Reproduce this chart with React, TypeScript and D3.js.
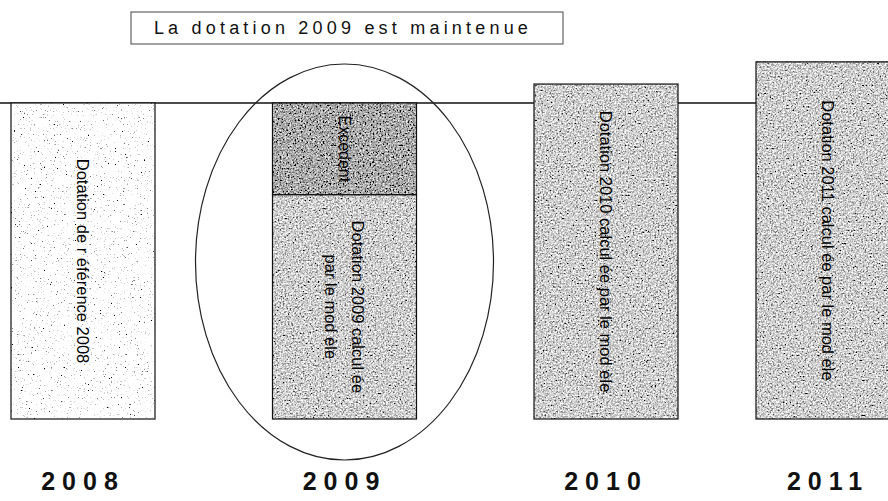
import * as d3 from "d3";
import { useRef, useEffect } from "react";

// data
const years = [2008, 2009, 2010, 2011];
const baseLabels = [
  ["Dotation de r éférence 2008"],
  ["Dotation 2009 calcul ée", "par le mod èle"],
  ["Dotation 2010 calcul ée par le mod èle"],
  ["Dotation 2011 calcul ée par le mod èle"],
];
const baseValues = [100, 71, 106, 113];
const excessValues = [0, 29, 0, 0];
const excessLabel = "Excédent";
const title = "La dotation 2009 est maintenue";

const W = 888;
const H = 501;

const App = () => {
  const svgRef = useRef(null);

  useEffect(() => {
    const svgEl = d3.select(svgRef.current);
    svgEl.selectAll("*").remove();

    const barW = 144;
    // bars are not evenly spaced in the original slide
    const xScale = d3.scaleLinear().domain([2008, 2010, 2011]).range([11, 534, 756]);
    const yScale = d3.scaleLinear().domain([0, 100]).range([419, 103]);

    // noise textures
    const defs = svgEl.append("defs");
    const mkNoise = (id, slope, intercept, seed, freq) => {
      const f = defs
        .append("filter")
        .attr("id", id)
        .attr("filterUnits", "objectBoundingBox")
        .attr("x", 0)
        .attr("y", 0)
        .attr("width", 1)
        .attr("height", 1);
      f.append("feTurbulence")
        .attr("type", "fractalNoise")
        .attr("baseFrequency", freq)
        .attr("numOctaves", 2)
        .attr("seed", seed);
      f.append("feColorMatrix")
        .attr("type", "matrix")
        .attr("values", "0.33 0.33 0.34 0 0  0.33 0.33 0.34 0 0  0.33 0.33 0.34 0 0  0 0 0 0 1");
      const ct = f.append("feComponentTransfer");
      ["feFuncR", "feFuncG", "feFuncB"].forEach((fn) =>
        ct.append(fn).attr("type", "linear").attr("slope", slope).attr("intercept", intercept)
      );
    };
    mkNoise("sparse", 8, -2.3, 4, 0.7);
    mkNoise("grey", 3.2, -0.98, 2, 0.6);
    mkNoise("dark", 3.2, -1.2, 7, 0.6);

    const g = svgEl.append("g");

    // reference line at the 2008 level
    g.append("line")
      .attr("x1", 0)
      .attr("x2", W)
      .attr("y1", yScale(baseValues[0]))
      .attr("y2", yScale(baseValues[0]))
      .attr("stroke", "#111")
      .attr("stroke-width", 1.5);

    const bars = years.map((y, i) => ({
      year: y,
      base: baseValues[i],
      excess: excessValues[i],
      labels: baseLabels[i],
    }));

    const font = "Liberation Sans, Arial, sans-serif";

    // base segments
    const bg = g.selectAll(".bar").data(bars).enter().append("g").attr("class", "bar");
    bg.append("rect")
      .attr("x", (d) => xScale(d.year))
      .attr("y", (d) => yScale(d.base))
      .attr("width", barW)
      .attr("height", (d) => yScale(0) - yScale(d.base))
      .attr("fill", "#fff")
      .attr("filter", (d) => (d.year === 2008 ? "url(#sparse)" : "url(#grey)"));
    bg.append("rect")
      .attr("x", (d) => xScale(d.year))
      .attr("y", (d) => yScale(d.base))
      .attr("width", barW)
      .attr("height", (d) => yScale(0) - yScale(d.base))
      .attr("fill", "none")
      .attr("stroke", "#111")
      .attr("stroke-width", 1.2);

    // excess segment
    const ex = bars.filter((d) => d.excess > 0);
    const eg = g.selectAll(".excess").data(ex).enter().append("g").attr("class", "excess");
    eg.append("rect")
      .attr("x", (d) => xScale(d.year))
      .attr("y", (d) => yScale(d.base + d.excess))
      .attr("width", barW)
      .attr("height", (d) => yScale(d.base) - yScale(d.base + d.excess))
      .attr("fill", "#fff")
      .attr("filter", "url(#dark)");
    eg.append("rect")
      .attr("x", (d) => xScale(d.year))
      .attr("y", (d) => yScale(d.base + d.excess))
      .attr("width", barW)
      .attr("height", (d) => yScale(d.base) - yScale(d.base + d.excess))
      .attr("fill", "none")
      .attr("stroke", "#111")
      .attr("stroke-width", 1.2);
    eg.append("text")
      .attr(
        "transform",
        (d) =>
          `translate(${xScale(d.year) + barW / 2},${(yScale(d.base) + yScale(d.base + d.excess)) / 2}) rotate(90)`
      )
      .attr("text-anchor", "middle")
      .attr("dy", "0.35em")
      .attr("font-family", font)
      .attr("font-size", 16)
      .attr("fill", "#000")
      .text(excessLabel);

    // rotated labels in base segments
    bg.each(function (d) {
      const cx = xScale(d.year) + barW / 2;
      const cy = (yScale(0) + yScale(d.base)) / 2;
      const n = d.labels.length;
      const t = d3
        .select(this)
        .append("text")
        .attr("transform", `translate(${cx},${cy}) rotate(90)`)
        .attr("text-anchor", "middle")
        .attr("font-family", font)
        .attr("font-size", 16.5)
        .attr("fill", "#000");
      d.labels.forEach((l, k) => {
        t.append("tspan")
          .attr("x", 0)
          .attr("y", (k - (n - 1) / 2) * 27)
          .attr("dy", "0.35em")
          .text(l);
      });
    });

    // year labels
    g.selectAll(".year")
      .data(bars)
      .enter()
      .append("text")
      .attr("x", (d) => xScale(d.year) + barW / 2)
      .attr("y", 490)
      .attr("text-anchor", "middle")
      .attr("font-family", font)
      .attr("font-weight", "bold")
      .attr("font-size", 25)
      .attr("letter-spacing", 7)
      .attr("fill", "#111")
      .text((d) => d.year);

    // ellipse around 2009
    g.append("ellipse")
      .attr("cx", xScale(2009) + barW / 2)
      .attr("cy", 262)
      .attr("rx", 149)
      .attr("ry", 198)
      .attr("fill", "none")
      .attr("stroke", "#222")
      .attr("stroke-width", 1.2);

    // title box
    g.append("rect")
      .attr("x", 131)
      .attr("y", 12)
      .attr("width", 432)
      .attr("height", 32)
      .attr("fill", "#fff")
      .attr("stroke", "#444")
      .attr("stroke-width", 1);
    g.append("text")
      .attr("x", 343)
      .attr("y", 34)
      .attr("text-anchor", "middle")
      .attr("font-family", font)
      .attr("font-size", 18)
      .attr("letter-spacing", 4.2)
      .attr("fill", "#111")
      .text(title);
  }, []);

  return (
    <svg
      ref={svgRef}
      width={W}
      height={H}
      style={{ position: "absolute", left: 0, top: 0, background: "#fff" }}
    />
  );
};

export default App;
